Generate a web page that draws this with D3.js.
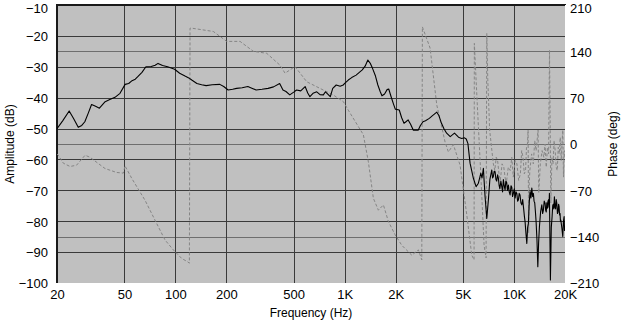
<!DOCTYPE html>
<html>
<head>
<meta charset="utf-8">
<script src="https://cdn.jsdelivr.net/npm/d3@7/dist/d3.min.js"></script>
<style>
  html, body { margin: 0; padding: 0; background: #ffffff; }
  svg { display: block; }
  text { font-family: "Liberation Sans", Arial, sans-serif; fill: #000; }
</style>
</head>
<body>
<svg id="chart" width="624" height="322"></svg>
<script>
// Amplitude response (dB) versus frequency (Hz)
const ampFreq = [
  20, 21.6, 23.6, 25.1, 26.7, 28, 29.2, 30.6, 32, 33.8, 35.6, 38.5, 41, 44, 47.1,
  50.5, 53, 55.5, 58, 60, 63.5, 67, 72, 76, 79, 84, 90, 99, 106, 114, 120, 125,
  134, 143, 152, 165, 183, 193, 205, 218, 230, 248, 268, 285, 300, 325, 353, 380,
  413, 432, 450, 474, 500, 520, 550, 584, 605, 623, 650, 684, 715, 748, 770, 800,
  822, 850, 891, 940, 980, 1000, 1050, 1100, 1168, 1220, 1270, 1320, 1370, 1420,
  1460, 1520, 1570, 1620, 1660, 1720, 1780, 1820, 1880, 1940, 1990, 2100, 2170,
  2240, 2300, 2370, 2450, 2540, 2720, 2800, 2900, 3000, 3160, 3300, 3500, 3600,
  3730, 3850, 4000, 4200, 4450, 4700, 4910, 5100, 5220, 5340, 5500, 5754, 5970,
  6160, 6364, 6470, 6592, 6746, 6904, 7056, 7200, 7390, 7470, 7550, 7640, 7730,
  7820, 7900, 8000, 8086, 8170, 8250, 8360, 8468, 8560, 8650, 8750, 8856, 8950,
  9050, 9150, 9264, 9370, 9480, 9600, 9700, 9800, 9916, 10030, 10150, 10260, 10386,
  10500, 10612, 10730, 10850, 10980, 11114, 11250, 11400, 11520, 11624, 11760,
  11898, 12030, 12158, 12300, 12444, 12590, 12736, 12880, 13016, 13130, 13250,
  13380, 13502, 13660, 13820, 13970, 14124, 14350, 14592, 14750, 14900, 15080,
  15258, 15380, 15500, 15620, 15742, 15870, 16000, 16090, 16178, 16290, 16400,
  16600, 16782, 16920, 17050, 17180, 17316, 17460, 17600, 17750, 17892, 18050,
  18200, 18330, 18460, 18580, 18700, 18800, 18892, 19150, 19410, 19580, 19758,
  19880, 20000
];
const ampDb = [
  -50.0, -47.5, -44.3, -46.8, -49.6, -49.0, -47.8, -45.0, -42.2, -42.8, -43.4, -41.3, -40.6, -39.9, -38.6,
  -35.7, -35.4, -34.5, -34.0, -33.2, -31.8, -30.0, -29.9, -29.5, -28.9, -29.6, -30.0, -30.8, -32.1, -33.0, -33.6, -34.3,
  -35.4, -35.8, -36.1, -35.8, -35.7, -36.4, -37.5, -37.3, -37.0, -36.8, -36.4, -37.0, -37.5, -37.3, -37.0, -36.5,
  -35.4, -37.5, -38.0, -39.1, -38.2, -37.5, -37.8, -36.4, -38.5, -39.7, -38.6, -38.1, -39.0, -39.1, -38.1, -39.0,
  -39.7, -37.0, -35.9, -36.3, -35.9, -35.4, -34.3, -33.5, -32.7, -31.8, -31.0, -29.8, -27.8, -29.0,
  -30.5, -33.0, -35.9, -38.0, -39.4, -38.8, -37.4, -37.2, -39.7, -42.0, -43.7, -44.0, -46.5,
  -48.3, -47.8, -47.2, -48.6, -50.5, -50.5, -49.0, -47.8, -47.5, -46.7, -45.8, -44.7, -45.8,
  -48.3, -50.0, -51.5, -52.6, -51.5, -52.8, -53.2, -53.0, -53.4, -54.8, -61.2, -66.1, -68.8,
  -67.7, -64.5, -66.0, -62.9, -72.1, -79.1, -73.1, -66.5, -63.4, -66.0, -65.5, -63.8, -64.0,
  -66.5, -67.0, -65.0, -66.1, -68.5, -69.5, -67.0, -68.8, -70.5, -66.5, -68.5, -69.9, -67.0,
  -67.5, -70.0, -68.3, -70.5, -71.5, -68.5, -69.0, -72.0, -71.0, -69.5, -72.5, -70.5, -71.0,
  -73.5, -73.1, -71.0, -71.5, -74.0, -74.7, -73.0, -76.0, -78.5, -80.2, -84.0,
  -87.2, -82.0, -80.7, -74.0, -70.4, -72.5, -69.3, -72.0, -71.0, -73.5, -74.0,
  -77.0, -80.2, -86.0, -94.7, -87.0, -81.8, -77.0, -74.7, -77.5, -76.5, -73.5,
  -74.2, -76.5, -77.0, -74.0, -75.8, -73.5, -73.0, -75.5, -71.0, -85.0, -99.0,
  -82.0, -78.5, -75.0, -74.5, -76.0, -72.1, -75.5, -76.0, -73.0, -74.2, -77.5,
  -77.0, -74.5, -75.3, -78.0, -77.5, -80.0, -79.6, -82.0, -85.0, -80.0, -78.5,
  -83.0, -81.8
];

// Phase response (deg), wrapped to ±180
const phaseFreq = [
  20, 20.35, 21.8, 23.9, 26.1, 29.3, 31.3, 38.4, 45, 49.3, 50.4, 55.3, 66.2, 75.8,
  86.9, 97.3, 109.1, 118.3, 121, 122.1, 124.9, 167.6, 201, 241, 289, 346.5, 415,
  444.5, 509, 597, 715, 857, 982, 1051, 1289, 1380, 1477, 1581, 1693, 1811, 1984,
  2173, 2490, 2724, 2853, 2876, 3194, 3498, 3916, 4096, 4384, 4802, 5260, 5630,
  5808, 5830, 6051, 6387, 6655, 6839, 6904, 7000, 7180, 7400, 7550, 7700, 7850,
  8000, 8150, 8300, 8500, 8700, 8850, 9000, 9250, 9500, 9700, 9900, 10150, 10400,
  10650, 10900, 11100, 11300, 11500, 11700, 11850, 12000, 12106, 12200, 12300,
  12400, 12700, 13000, 13250, 13500, 13870, 14000, 14300, 14650, 15000, 15250,
  15500, 15750, 16000, 16200, 16500, 16750, 17000, 17250, 17500, 17750, 18000,
  18250, 18500, 18750, 19000, 19200, 19410, 19600, 19800, 20000
];
const phaseDeg = [
  -15, -17, -29, -34, -32, -17, -20, -37, -43, -44, -33, -52, -85, -115,
  -145, -160, -173, -178, -180, 175, 175, 170, 155, 155, 140, 137, 119,
  107, 117, 94, 84, 74, 64, 51, 14, -27, -82, -100, -92, -117, -137,
  -153, -168, -160, -175, 177, 145, 59, 3, -12, -1, -32, -107, -168,
  -175, 152, 66, -54, -153, -172, 167, 97, 21, -10, -30, -40, -20,
  -25, -45, -55, -30, -35, -50, -60, -35, -40, -20, -50, -25, -30,
  -55, -45, -10, -20, -45, -40, -5, 0, 21, -134, -60,
  -40, -15, -30, 5, -10, 21, -74, -30, -10, -20, 0,
  -35, -5, -15, 142, -89, -20, -30, 5, -10, -35, -40,
  -5, -15, 10, -25, 0, 21, -50, -10, -20
];

// Tick values and labels
const freqTicks = [20, 50, 100, 200, 500, 1000, 2000, 5000, 10000, 20000];
const freqTickLabels = ["20", "50", "100", "200", "500", "1K", "2K", "5K", "10K", "20K"];
const ampTicks = [-10, -20, -30, -40, -50, -60, -70, -80, -90, -100];
const phaseTicks = [210, 140, 70, 0, -70, -140, -210];

const svg = d3.select("#chart");
const plotLeft = 57, plotRight = 565, plotTop = 5, plotBottom = 283;
const font = "Liberation Sans, Arial, sans-serif";

const x = d3.scaleLog().domain([20, 20000]).range([plotLeft, plotRight]);
const yAmp = d3.scaleLinear().domain([-100, -10]).range([plotBottom, plotTop]);
const yPhase = d3.scaleLinear().domain([-210, 210]).range([plotBottom, plotTop]);

// plot background
svg.append("rect")
  .attr("x", plotLeft).attr("y", plotTop)
  .attr("width", plotRight - plotLeft).attr("height", plotBottom - plotTop)
  .attr("fill", "#c0c0c0");

// phase grid (lighter)
svg.append("g")
  .attr("transform", `translate(${plotLeft},0)`)
  .call(d3.axisLeft(yPhase).tickValues(phaseTicks.slice(1, -1)).tickSize(-(plotRight - plotLeft)).tickFormat(""))
  .call(g => g.select(".domain").remove())
  .call(g => g.selectAll("line").attr("stroke", "#6e6e6e").attr("shape-rendering", "crispEdges"));

// amplitude grid
svg.append("g")
  .attr("transform", `translate(${plotLeft},0)`)
  .call(d3.axisLeft(yAmp).tickValues(ampTicks.slice(1, -1)).tickSize(-(plotRight - plotLeft)).tickFormat(""))
  .call(g => g.select(".domain").remove())
  .call(g => g.selectAll("line").attr("stroke", "#3a3a3a").attr("shape-rendering", "crispEdges"));

// frequency grid
svg.append("g")
  .attr("transform", `translate(0,${plotBottom})`)
  .call(d3.axisBottom(x).tickValues(freqTicks.slice(1, -1)).tickSize(-(plotBottom - plotTop)).tickFormat(""))
  .call(g => g.select(".domain").remove())
  .call(g => g.selectAll("line").attr("stroke", "#3a3a3a").attr("shape-rendering", "crispEdges"));

// inset frame: dark top/left, white bottom/right
svg.append("line").attr("x1", plotLeft).attr("x2", plotRight + 1).attr("y1", plotTop).attr("y2", plotTop)
  .attr("stroke", "#1a1a1a").attr("stroke-width", 2);
svg.append("line").attr("x1", plotLeft).attr("x2", plotLeft).attr("y1", plotTop - 1).attr("y2", plotBottom)
  .attr("stroke", "#1a1a1a").attr("stroke-width", 2);
svg.append("line").attr("x1", plotLeft).attr("x2", plotRight + 1).attr("y1", plotBottom + 0.5).attr("y2", plotBottom + 0.5)
  .attr("stroke", "#ffffff").attr("stroke-width", 1);
svg.append("line").attr("x1", plotRight + 0.5).attr("x2", plotRight + 0.5).attr("y1", plotTop).attr("y2", plotBottom + 1)
  .attr("stroke", "#ffffff").attr("stroke-width", 1);

// clip curves to plot area
svg.append("clipPath").attr("id", "plotClip")
  .append("rect").attr("x", plotLeft).attr("y", plotTop)
  .attr("width", plotRight - plotLeft).attr("height", plotBottom - plotTop);

const plot = svg.append("g").attr("clip-path", "url(#plotClip)");

// phase curve (dashed gray)
const phaseLine = d3.line()
  .x((d, i) => x(phaseFreq[i]))
  .y(d => yPhase(d));
plot.append("path")
  .datum(phaseDeg)
  .attr("d", phaseLine)
  .attr("fill", "none")
  .attr("stroke", "#858585")
  .attr("stroke-width", 1)
  .attr("stroke-dasharray", "3,2");

// amplitude curve (solid black)
const ampLine = d3.line()
  .x((d, i) => x(ampFreq[i]))
  .y(d => yAmp(d));
plot.append("path")
  .datum(ampDb)
  .attr("d", ampLine)
  .attr("fill", "none")
  .attr("stroke", "#000")
  .attr("stroke-width", 1.1)
  .attr("stroke-linejoin", "round");

// vertical-axis labels; the topmost one is nudged down to stay inside the page
function styleSideLabels(g) {
  g.select(".domain").remove();
  g.selectAll("text")
    .attr("font-size", 13).attr("font-family", font).attr("fill", "#000")
    .attr("dy", (d, i) => i === 0 ? "0.55em" : "0.37em");
}

// left axis labels (amplitude)
svg.append("g")
  .attr("transform", `translate(${plotLeft},0)`)
  .call(d3.axisLeft(yAmp).tickValues(ampTicks).tickSize(0).tickPadding(9).tickFormat(d3.format("d")))
  .call(styleSideLabels);

// right axis labels (phase)
svg.append("g")
  .attr("transform", `translate(${plotRight},0)`)
  .call(d3.axisRight(yPhase).tickValues(phaseTicks).tickSize(0).tickPadding(5).tickFormat(d3.format("d")))
  .call(styleSideLabels);

// bottom axis labels (frequency)
svg.append("g")
  .attr("transform", `translate(0,${plotBottom})`)
  .call(d3.axisBottom(x).tickValues(freqTicks).tickSize(0).tickPadding(7)
    .tickFormat((d, i) => freqTickLabels[i]))
  .call(g => g.select(".domain").remove())
  .call(g => g.selectAll("text").attr("font-size", 13).attr("font-family", font).attr("fill", "#000"));

// axis titles
svg.append("text")
  .attr("x", (plotLeft + plotRight) / 2).attr("y", 317)
  .attr("text-anchor", "middle").attr("font-size", 12)
  .text("Frequency (Hz)");
svg.append("text")
  .attr("transform", `translate(14,${(plotTop + plotBottom) / 2}) rotate(-90)`)
  .attr("text-anchor", "middle").attr("font-size", 12)
  .text("Amplitude (dB)");
svg.append("text")
  .attr("transform", `translate(617,${(plotTop + plotBottom) / 2}) rotate(-90)`)
  .attr("text-anchor", "middle").attr("font-size", 12)
  .text("Phase (deg)");
</script>
</body>
</html>
